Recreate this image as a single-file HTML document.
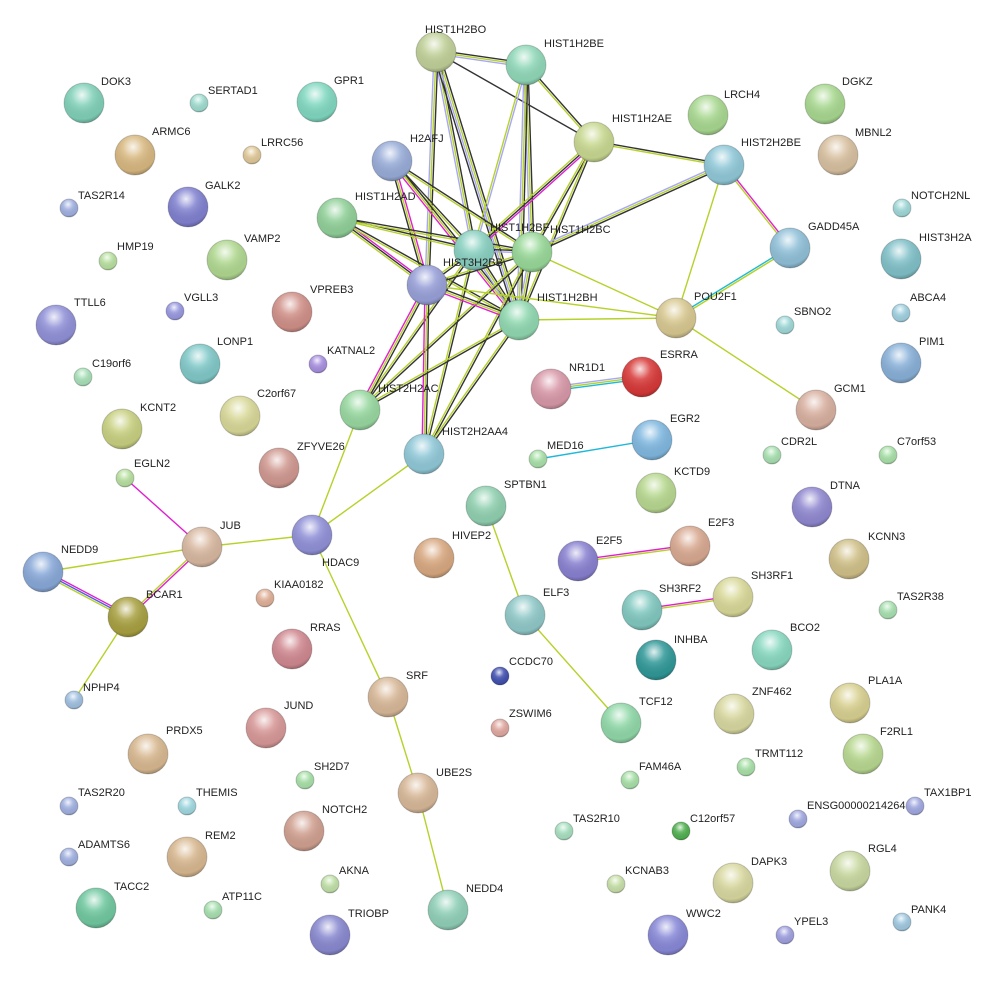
<!DOCTYPE html>
<html><head><meta charset="utf-8"><style>
html,body{margin:0;padding:0;background:#fff}
svg{display:block}
text{font-family:"Liberation Sans",sans-serif;font-size:11px;fill:#222;dominant-baseline:middle}
.h{fill:url(#hl);stroke:rgba(0,0,0,0.18);stroke-width:1}
</style></head><body>
<svg id="s" width="985" height="981" viewBox="0 0 985 981" xmlns="http://www.w3.org/2000/svg">
<defs>
<radialGradient id="hl" cx="0.45" cy="0.3" r="0.75">
<stop offset="0" stop-color="#fff" stop-opacity="0.85"/>
<stop offset="0.35" stop-color="#fff" stop-opacity="0.15"/>
<stop offset="0.8" stop-color="#000" stop-opacity="0.05"/>
<stop offset="1" stop-color="#000" stop-opacity="0.35"/>
</radialGradient>
</defs>
<g id="edges"></g>
<g id="nodes">
<circle cx="436" cy="52" r="20" fill="#c0d098"/><circle cx="436" cy="52" r="20" class="h"/><text x="425" y="30">HIST1H2BO</text>
<circle cx="526" cy="65" r="20" fill="#90d8b8"/><circle cx="526" cy="65" r="20" class="h"/><text x="544" y="44">HIST1H2BE</text>
<circle cx="594" cy="142" r="20" fill="#c8d890"/><circle cx="594" cy="142" r="20" class="h"/><text x="612" y="119">HIST1H2AE</text>
<circle cx="708" cy="115" r="20" fill="#a8d890"/><circle cx="708" cy="115" r="20" class="h"/><text x="724" y="95">LRCH4</text>
<circle cx="825" cy="104" r="20" fill="#a8d890"/><circle cx="825" cy="104" r="20" class="h"/><text x="842" y="82">DGKZ</text>
<circle cx="724" cy="165" r="20" fill="#90c8d8"/><circle cx="724" cy="165" r="20" class="h"/><text x="741" y="143">HIST2H2BE</text>
<circle cx="838" cy="155" r="20" fill="#d8c0a0"/><circle cx="838" cy="155" r="20" class="h"/><text x="855" y="133">MBNL2</text>
<circle cx="84" cy="103" r="20" fill="#80d0b8"/><circle cx="84" cy="103" r="20" class="h"/><text x="101" y="82">DOK3</text>
<circle cx="199" cy="103" r="9" fill="#a0dcd0"/><circle cx="199" cy="103" r="9" class="h"/><text x="208" y="91">SERTAD1</text>
<circle cx="317" cy="102" r="20" fill="#80d8c0"/><circle cx="317" cy="102" r="20" class="h"/><text x="334" y="81">GPR1</text>
<circle cx="135" cy="155" r="20" fill="#d8b880"/><circle cx="135" cy="155" r="20" class="h"/><text x="152" y="132">ARMC6</text>
<circle cx="252" cy="155" r="9" fill="#e0c898"/><circle cx="252" cy="155" r="9" class="h"/><text x="261" y="143">LRRC56</text>
<circle cx="392" cy="161" r="20" fill="#98acd8"/><circle cx="392" cy="161" r="20" class="h"/><text x="410" y="139">H2AFJ</text>
<circle cx="69" cy="208" r="9" fill="#a0b0e0"/><circle cx="69" cy="208" r="9" class="h"/><text x="78" y="196">TAS2R14</text>
<circle cx="188" cy="207" r="20" fill="#8080d0"/><circle cx="188" cy="207" r="20" class="h"/><text x="205" y="186">GALK2</text>
<circle cx="902" cy="208" r="9" fill="#a0d8d8"/><circle cx="902" cy="208" r="9" class="h"/><text x="911" y="196">NOTCH2NL</text>
<circle cx="790" cy="248" r="20" fill="#90c0d8"/><circle cx="790" cy="248" r="20" class="h"/><text x="808" y="227">GADD45A</text>
<circle cx="901" cy="259" r="20" fill="#80c0c8"/><circle cx="901" cy="259" r="20" class="h"/><text x="919" y="238">HIST3H2A</text>
<circle cx="337" cy="218" r="20" fill="#90d098"/><circle cx="337" cy="218" r="20" class="h"/><text x="355" y="197">HIST1H2AD</text>
<circle cx="108" cy="261" r="9" fill="#b8e0a0"/><circle cx="108" cy="261" r="9" class="h"/><text x="117" y="247">HMP19</text>
<circle cx="227" cy="260" r="20" fill="#b0d890"/><circle cx="227" cy="260" r="20" class="h"/><text x="244" y="239">VAMP2</text>
<circle cx="292" cy="312" r="20" fill="#d09088"/><circle cx="292" cy="312" r="20" class="h"/><text x="310" y="290">VPREB3</text>
<circle cx="175" cy="311" r="9" fill="#9898e0"/><circle cx="175" cy="311" r="9" class="h"/><text x="184" y="298">VGLL3</text>
<circle cx="56" cy="325" r="20" fill="#9090d8"/><circle cx="56" cy="325" r="20" class="h"/><text x="74" y="303">TTLL6</text>
<circle cx="785" cy="325" r="9" fill="#a0d8d8"/><circle cx="785" cy="325" r="9" class="h"/><text x="794" y="312">SBNO2</text>
<circle cx="901" cy="313" r="9" fill="#a0d0e0"/><circle cx="901" cy="313" r="9" class="h"/><text x="910" y="298">ABCA4</text>
<circle cx="901" cy="363" r="20" fill="#88b0d8"/><circle cx="901" cy="363" r="20" class="h"/><text x="919" y="342">PIM1</text>
<circle cx="200" cy="364" r="20" fill="#80c8c8"/><circle cx="200" cy="364" r="20" class="h"/><text x="217" y="342">LONP1</text>
<circle cx="318" cy="364" r="9" fill="#a890e0"/><circle cx="318" cy="364" r="9" class="h"/><text x="327" y="351">KATNAL2</text>
<circle cx="83" cy="377" r="9" fill="#a8e0b8"/><circle cx="83" cy="377" r="9" class="h"/><text x="92" y="364">C19orf6</text>
<circle cx="551" cy="389" r="20" fill="#d898a8"/><circle cx="551" cy="389" r="20" class="h"/><text x="569" y="368">NR1D1</text>
<circle cx="642" cy="377" r="20" fill="#d83838"/><circle cx="642" cy="377" r="20" class="h"/><text x="660" y="355">ESRRA</text>
<circle cx="816" cy="410" r="20" fill="#d8b0a0"/><circle cx="816" cy="410" r="20" class="h"/><text x="834" y="389">GCM1</text>
<circle cx="240" cy="416" r="20" fill="#d8d898"/><circle cx="240" cy="416" r="20" class="h"/><text x="257" y="394">C2orf67</text>
<circle cx="122" cy="429" r="20" fill="#c8d080"/><circle cx="122" cy="429" r="20" class="h"/><text x="140" y="408">KCNT2</text>
<circle cx="652" cy="440" r="20" fill="#80b8e0"/><circle cx="652" cy="440" r="20" class="h"/><text x="670" y="419">EGR2</text>
<circle cx="538" cy="459" r="9" fill="#a8e0a8"/><circle cx="538" cy="459" r="9" class="h"/><text x="547" y="446">MED16</text>
<circle cx="772" cy="455" r="9" fill="#a8e0b0"/><circle cx="772" cy="455" r="9" class="h"/><text x="781" y="442">CDR2L</text>
<circle cx="888" cy="455" r="9" fill="#a8e0a8"/><circle cx="888" cy="455" r="9" class="h"/><text x="897" y="442">C7orf53</text>
<circle cx="279" cy="468" r="20" fill="#d09890"/><circle cx="279" cy="468" r="20" class="h"/><text x="297" y="447">ZFYVE26</text>
<circle cx="125" cy="478" r="9" fill="#b8e0a0"/><circle cx="125" cy="478" r="9" class="h"/><text x="134" y="464">EGLN2</text>
<circle cx="656" cy="493" r="20" fill="#b8d890"/><circle cx="656" cy="493" r="20" class="h"/><text x="674" y="472">KCTD9</text>
<circle cx="486" cy="506" r="20" fill="#90d0b0"/><circle cx="486" cy="506" r="20" class="h"/><text x="504" y="485">SPTBN1</text>
<circle cx="812" cy="507" r="20" fill="#9088d0"/><circle cx="812" cy="507" r="20" class="h"/><text x="830" y="486">DTNA</text>
<circle cx="434" cy="558" r="20" fill="#d8a880"/><circle cx="434" cy="558" r="20" class="h"/><text x="452" y="536">HIVEP2</text>
<circle cx="578" cy="561" r="20" fill="#8880d0"/><circle cx="578" cy="561" r="20" class="h"/><text x="596" y="541">E2F5</text>
<circle cx="690" cy="546" r="20" fill="#d8a890"/><circle cx="690" cy="546" r="20" class="h"/><text x="708" y="523">E2F3</text>
<circle cx="849" cy="559" r="20" fill="#d0c088"/><circle cx="849" cy="559" r="20" class="h"/><text x="868" y="537">KCNN3</text>
<circle cx="265" cy="598" r="9" fill="#e0b098"/><circle cx="265" cy="598" r="9" class="h"/><text x="274" y="585">KIAA0182</text>
<circle cx="642" cy="610" r="20" fill="#80c8c0"/><circle cx="642" cy="610" r="20" class="h"/><text x="659" y="589">SH3RF2</text>
<circle cx="733" cy="597" r="20" fill="#d8d898"/><circle cx="733" cy="597" r="20" class="h"/><text x="751" y="576">SH3RF1</text>
<circle cx="888" cy="610" r="9" fill="#a8e0b0"/><circle cx="888" cy="610" r="9" class="h"/><text x="897" y="597">TAS2R38</text>
<circle cx="525" cy="615" r="20" fill="#90c8c8"/><circle cx="525" cy="615" r="20" class="h"/><text x="543" y="593">ELF3</text>
<circle cx="772" cy="650" r="20" fill="#88d8c0"/><circle cx="772" cy="650" r="20" class="h"/><text x="790" y="628">BCO2</text>
<circle cx="292" cy="649" r="20" fill="#d08890"/><circle cx="292" cy="649" r="20" class="h"/><text x="310" y="628">RRAS</text>
<circle cx="656" cy="660" r="20" fill="#309898"/><circle cx="656" cy="660" r="20" class="h"/><text x="674" y="640">INHBA</text>
<circle cx="500" cy="676" r="9" fill="#4050b0"/><circle cx="500" cy="676" r="9" class="h"/><text x="509" y="662">CCDC70</text>
<circle cx="74" cy="700" r="9" fill="#a0c0e0"/><circle cx="74" cy="700" r="9" class="h"/><text x="83" y="688">NPHP4</text>
<circle cx="621" cy="723" r="20" fill="#90d8a8"/><circle cx="621" cy="723" r="20" class="h"/><text x="639" y="702">TCF12</text>
<circle cx="734" cy="714" r="20" fill="#d8d8a0"/><circle cx="734" cy="714" r="20" class="h"/><text x="752" y="692">ZNF462</text>
<circle cx="850" cy="703" r="20" fill="#d8d090"/><circle cx="850" cy="703" r="20" class="h"/><text x="868" y="681">PLA1A</text>
<circle cx="266" cy="728" r="20" fill="#d89898"/><circle cx="266" cy="728" r="20" class="h"/><text x="284" y="706">JUND</text>
<circle cx="500" cy="728" r="9" fill="#e0a8a0"/><circle cx="500" cy="728" r="9" class="h"/><text x="509" y="714">ZSWIM6</text>
<circle cx="148" cy="754" r="20" fill="#d8b890"/><circle cx="148" cy="754" r="20" class="h"/><text x="166" y="731">PRDX5</text>
<circle cx="746" cy="767" r="9" fill="#a8e0a8"/><circle cx="746" cy="767" r="9" class="h"/><text x="755" y="754">TRMT112</text>
<circle cx="863" cy="754" r="20" fill="#b8d890"/><circle cx="863" cy="754" r="20" class="h"/><text x="880" y="732">F2RL1</text>
<circle cx="305" cy="780" r="9" fill="#a8e0a8"/><circle cx="305" cy="780" r="9" class="h"/><text x="314" y="767">SH2D7</text>
<circle cx="630" cy="780" r="9" fill="#a8e0a8"/><circle cx="630" cy="780" r="9" class="h"/><text x="639" y="767">FAM46A</text>
<circle cx="69" cy="806" r="9" fill="#a0b0e0"/><circle cx="69" cy="806" r="9" class="h"/><text x="78" y="793">TAS2R20</text>
<circle cx="187" cy="806" r="9" fill="#a0d8e0"/><circle cx="187" cy="806" r="9" class="h"/><text x="196" y="793">THEMIS</text>
<circle cx="304" cy="831" r="20" fill="#d0a090"/><circle cx="304" cy="831" r="20" class="h"/><text x="322" y="810">NOTCH2</text>
<circle cx="798" cy="819" r="9" fill="#a0a8e0"/><circle cx="798" cy="819" r="9" class="h"/><text x="807" y="806">ENSG00000214264</text>
<circle cx="915" cy="806" r="9" fill="#a0a8e0"/><circle cx="915" cy="806" r="9" class="h"/><text x="924" y="793">TAX1BP1</text>
<circle cx="564" cy="831" r="9" fill="#a8e0c0"/><circle cx="564" cy="831" r="9" class="h"/><text x="573" y="819">TAS2R10</text>
<circle cx="681" cy="831" r="9" fill="#50b050"/><circle cx="681" cy="831" r="9" class="h"/><text x="690" y="819">C12orf57</text>
<circle cx="69" cy="857" r="9" fill="#a0b0e0"/><circle cx="69" cy="857" r="9" class="h"/><text x="78" y="845">ADAMTS6</text>
<circle cx="187" cy="857" r="20" fill="#d8b890"/><circle cx="187" cy="857" r="20" class="h"/><text x="205" y="836">REM2</text>
<circle cx="330" cy="884" r="9" fill="#c0e0a8"/><circle cx="330" cy="884" r="9" class="h"/><text x="339" y="871">AKNA</text>
<circle cx="616" cy="884" r="9" fill="#c8e0a8"/><circle cx="616" cy="884" r="9" class="h"/><text x="625" y="871">KCNAB3</text>
<circle cx="733" cy="883" r="20" fill="#d8d8a0"/><circle cx="733" cy="883" r="20" class="h"/><text x="751" y="862">DAPK3</text>
<circle cx="850" cy="871" r="20" fill="#c8d8a0"/><circle cx="850" cy="871" r="20" class="h"/><text x="868" y="849">RGL4</text>
<circle cx="96" cy="908" r="20" fill="#70c8a0"/><circle cx="96" cy="908" r="20" class="h"/><text x="114" y="887">TACC2</text>
<circle cx="213" cy="910" r="9" fill="#a8e0b0"/><circle cx="213" cy="910" r="9" class="h"/><text x="222" y="897">ATP11C</text>
<circle cx="448" cy="910" r="20" fill="#90d0b8"/><circle cx="448" cy="910" r="20" class="h"/><text x="466" y="889">NEDD4</text>
<circle cx="330" cy="935" r="20" fill="#8888d0"/><circle cx="330" cy="935" r="20" class="h"/><text x="348" y="914">TRIOBP</text>
<circle cx="668" cy="935" r="20" fill="#8888d8"/><circle cx="668" cy="935" r="20" class="h"/><text x="686" y="914">WWC2</text>
<circle cx="785" cy="935" r="9" fill="#a0a0e0"/><circle cx="785" cy="935" r="9" class="h"/><text x="794" y="922">YPEL3</text>
<circle cx="902" cy="922" r="9" fill="#a0c8e0"/><circle cx="902" cy="922" r="9" class="h"/><text x="911" y="910">PANK4</text>
<circle cx="337" cy="218" r="0" fill="none"/>
<circle cx="474" cy="250" r="20" fill="#88d0c0"/><circle cx="474" cy="250" r="20" class="h"/><text x="490" y="228">HIST1H2BF</text>
<circle cx="532" cy="252" r="20" fill="#98d898"/><circle cx="532" cy="252" r="20" class="h"/><text x="550" y="230">HIST1H2BC</text>
<circle cx="427" cy="285" r="20" fill="#98a0d8"/><circle cx="427" cy="285" r="20" class="h"/><text x="443" y="263">HIST3H2BB</text>
<circle cx="519" cy="320" r="20" fill="#90d8b0"/><circle cx="519" cy="320" r="20" class="h"/><text x="537" y="298">HIST1H2BH</text>
<circle cx="676" cy="318" r="20" fill="#d8c890"/><circle cx="676" cy="318" r="20" class="h"/><text x="694" y="297">POU2F1</text>
<circle cx="360" cy="410" r="20" fill="#98d8a0"/><circle cx="360" cy="410" r="20" class="h"/><text x="378" y="389">HIST2H2AC</text>
<circle cx="424" cy="454" r="20" fill="#90c8d8"/><circle cx="424" cy="454" r="20" class="h"/><text x="442" y="432">HIST2H2AA4</text>
<circle cx="202" cy="547" r="20" fill="#d8b8a0"/><circle cx="202" cy="547" r="20" class="h"/><text x="220" y="526">JUB</text>
<circle cx="312" cy="535" r="20" fill="#9090d8"/><circle cx="312" cy="535" r="20" class="h"/><text x="322" y="563">HDAC9</text>
<circle cx="43" cy="572" r="20" fill="#88a8d8"/><circle cx="43" cy="572" r="20" class="h"/><text x="61" y="550">NEDD9</text>
<circle cx="128" cy="617" r="20" fill="#a8a040"/><circle cx="128" cy="617" r="20" class="h"/><text x="146" y="595">BCAR1</text>
<circle cx="388" cy="697" r="20" fill="#d8b898"/><circle cx="388" cy="697" r="20" class="h"/><text x="406" y="676">SRF</text>
<circle cx="418" cy="793" r="20" fill="#d8b898"/><circle cx="418" cy="793" r="20" class="h"/><text x="436" y="773">UBE2S</text>
</g>
</svg>
<script>
var P={BO:[436,52],BE:[526,65],AE:[594,142],B2E:[724,165],GADD:[790,248],AFJ:[392,161],AD:[337,218],BF:[474,250],BC:[532,252],B3:[427,285],BH:[519,320],POU:[676,318],GCM:[816,410],AC:[360,410],AA4:[424,454],NR:[551,389],ES:[642,377],MED:[538,459],EGR:[652,440],HD:[312,535],JUB:[202,547],EG:[125,478],N9:[43,572],BC1:[128,617],NP:[74,700],SRF:[388,697],UBE:[418,793],ND4:[448,910],SP:[486,506],ELF:[525,615],TCF:[621,723],E5:[578,561],E3:[690,546],S2:[642,610],S1:[733,597]};
var C={k:"#333",y:"#b5d22a",l:"#a8a8f0",m:"#e020d0",c:"#20b8d8",b:"#5060e0"};
var E=[["BO","BE","kyl"],["BO","AE","k"],["BO","BF","kyl"],["BO","BH","kylk"],["BO","B3","kyl"],
["BE","BF","ly"],["BE","BC","kyl"],["BE","AE","ky"],["BE","BH","kyl"],
["AE","BF","mky"],["AE","BC","ky"],["AE","BH","ky"],["AE","B2E","ky"],
["B2E","BC","kyl"],["B2E","POU","y"],["B2E","GADD","my"],
["AFJ","BF","ky"],["AFJ","BC","ky"],["AFJ","B3","myk"],["AFJ","BH","kym"],
["AD","BF","ky"],["AD","BC","ky"],["AD","B3","mky"],["AD","BH","ky"],
["BF","BC","kl"],["BF","B3","ky"],["BF","BH","kyl"],["BF","AC","ky"],["BF","AA4","ky"],
["BC","B3","ky"],["BC","BH","kyl"],["BC","AC","ky"],["BC","AA4","ky"],["BC","POU","y"],
["B3","BH","kym"],["B3","AC","kym"],["B3","AA4","kym"],["B3","POU","y"],
["BH","AC","ky"],["BH","AA4","ky"],["BH","POU","y"],
["POU","GADD","cy"],["POU","GCM","y"],["NR","ES","lyc"],["MED","EGR","c"],
["AC","HD","y"],["AA4","HD","y"],["HD","JUB","y"],["HD","SRF","y"],["SRF","UBE","y"],["UBE","ND4","y"],
["JUB","EG","m"],["JUB","N9","y"],["JUB","BC1","my"],["N9","BC1","mby"],["BC1","NP","y"],
["SP","ELF","y"],["ELF","TCF","y"],["E5","E3","my"],["S2","S1","my"]];
var g=document.getElementById("edges"),h="";
E.forEach(function(e){var a=P[e[0]],b=P[e[1]],dx=b[0]-a[0],dy=b[1]-a[1],L=Math.hypot(dx,dy),nx=-dy/L,ny=dx/L,n=e[2].length;
for(var i=0;i<n;i++){var o=(i-(n-1)/2)*2;h+='<line x1="'+(a[0]+nx*o)+'" y1="'+(a[1]+ny*o)+'" x2="'+(b[0]+nx*o)+'" y2="'+(b[1]+ny*o)+'" stroke="'+C[e[2][i]]+'" stroke-width="1.4"/>';}});
g.innerHTML=h;
</script>
</body></html>
